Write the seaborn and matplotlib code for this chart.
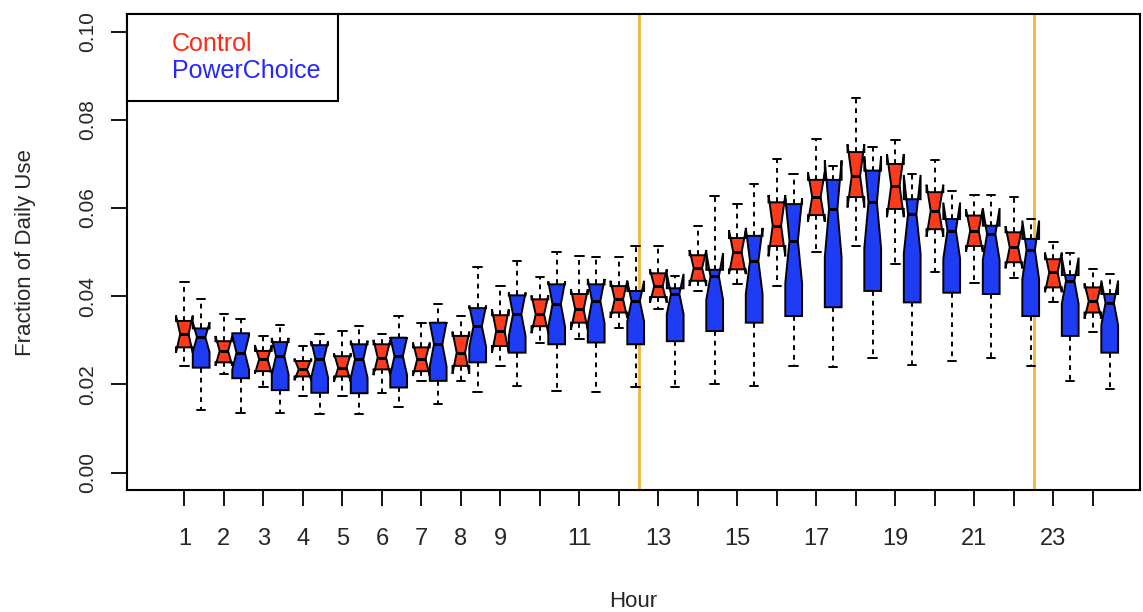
import numpy as np
import pandas as pd
import matplotlib
matplotlib.use("Agg")
import matplotlib.pyplot as plt
from matplotlib.lines import Line2D
import seaborn as sns

# --- data (five-number summaries per hour) ---
hours = list(range(1, 25))
groups = ["Control", "PowerChoice"]

ctrl_lo  = [0.0242, 0.0223, 0.0193, 0.0173, 0.0173, 0.0180, 0.0208, 0.0208, 0.0242, 0.0293, 0.0302, 0.0329,
            0.0370, 0.0412, 0.0427, 0.0423, 0.0500, 0.0514, 0.0473, 0.0454, 0.0431, 0.0442, 0.0386, 0.0318]
ctrl_q1  = [0.0284, 0.0250, 0.0230, 0.0218, 0.0218, 0.0234, 0.0230, 0.0242, 0.0287, 0.0332, 0.0340, 0.0363,
            0.0398, 0.0435, 0.0461, 0.0514, 0.0584, 0.0625, 0.0598, 0.0552, 0.0514, 0.0477, 0.0420, 0.0363]
ctrl_med = [0.0314, 0.0276, 0.0257, 0.0234, 0.0238, 0.0261, 0.0257, 0.0272, 0.0321, 0.0359, 0.0370, 0.0393,
            0.0423, 0.0464, 0.0500, 0.0560, 0.0625, 0.0673, 0.0651, 0.0594, 0.0549, 0.0511, 0.0454, 0.0389]
ctrl_q3  = [0.0344, 0.0298, 0.0276, 0.0253, 0.0264, 0.0291, 0.0284, 0.0310, 0.0357, 0.0393, 0.0405, 0.0423,
            0.0452, 0.0493, 0.0532, 0.0613, 0.0664, 0.0727, 0.0700, 0.0636, 0.0583, 0.0545, 0.0484, 0.0420]
ctrl_hi  = [0.0432, 0.0359, 0.0310, 0.0287, 0.0321, 0.0314, 0.0340, 0.0355, 0.0423, 0.0443, 0.0492, 0.0488,
            0.0513, 0.0560, 0.0609, 0.0711, 0.0757, 0.0850, 0.0755, 0.0708, 0.0630, 0.0624, 0.0522, 0.0461]

pc_lo  = [0.0143, 0.0136, 0.0136, 0.0132, 0.0132, 0.0148, 0.0155, 0.0182, 0.0196, 0.0185, 0.0182, 0.0193,
          0.0193, 0.0200, 0.0196, 0.0242, 0.0239, 0.0261, 0.0245, 0.0253, 0.0261, 0.0242, 0.0208, 0.0189]
pc_q1  = [0.0238, 0.0214, 0.0187, 0.0181, 0.0180, 0.0193, 0.0208, 0.0250, 0.0272, 0.0291, 0.0295, 0.0291,
          0.0298, 0.0321, 0.0340, 0.0355, 0.0375, 0.0412, 0.0386, 0.0408, 0.0405, 0.0355, 0.0310, 0.0272]
pc_med = [0.0307, 0.0272, 0.0264, 0.0257, 0.0257, 0.0264, 0.0291, 0.0332, 0.0359, 0.0382, 0.0389, 0.0389,
          0.0405, 0.0445, 0.0480, 0.0526, 0.0598, 0.0613, 0.0586, 0.0549, 0.0541, 0.0505, 0.0435, 0.0385]
pc_q3  = [0.0327, 0.0316, 0.0296, 0.0289, 0.0291, 0.0306, 0.0340, 0.0373, 0.0402, 0.0427, 0.0427, 0.0412,
          0.0418, 0.0460, 0.0537, 0.0609, 0.0664, 0.0685, 0.0620, 0.0575, 0.0560, 0.0530, 0.0448, 0.0405]
pc_hi  = [0.0393, 0.0348, 0.0334, 0.0314, 0.0332, 0.0355, 0.0382, 0.0466, 0.0480, 0.0500, 0.0488, 0.0513,
          0.0446, 0.0628, 0.0655, 0.0677, 0.0696, 0.0739, 0.0677, 0.0639, 0.0630, 0.0575, 0.0499, 0.0450]

tick_labels = ["1", "2", "3", "4", "5", "6", "7", "8", "9", "", "11", "",
               "13", "", "15", "", "17", "", "19", "", "21", "", "23", ""]
peak_edges = [12.5, 22.5]   # orange lines, in hour units

colors = ["#fb3b1c", "#1f3cf5"]
text_colors = ["#ff2a14", "#2626ff"]

# rebuild samples whose quartiles equal the summaries (k repeats -> n = 4k+1)
reps = {"Control": 1, "PowerChoice": 4}
summaries = {
    "Control": (ctrl_lo, ctrl_q1, ctrl_med, ctrl_q3, ctrl_hi),
    "PowerChoice": (pc_lo, pc_q1, pc_med, pc_q3, pc_hi),
}
rows = []
for g in groups:
    k = reps[g]
    lo, q1, med, q3, hi = summaries[g]
    for i, h in enumerate(hours):
        vals = [lo[i]] + [q1[i]] * k + [med[i]] * k + [q3[i]] * k + [hi[i]] * k
        rows += [(h, g, v) for v in vals]
df = pd.DataFrame(rows, columns=["Hour", "group", "share"])

# --- plot ---
sns.set_style("white")
plt.rcParams["font.family"] = ["Liberation Sans", "DejaVu Sans"]

fig, ax = plt.subplots(figsize=(11.43, 6.12), dpi=100)
fig.subplots_adjust(left=0.111, right=0.9974, bottom=0.199, top=0.977)

box_w = 0.85
sns.boxplot(data=df, x="Hour", y="share", hue="group", hue_order=groups,
            palette=colors, saturation=1, width=box_w, gap=0, dodge=True,
            notch=True, whis=(0, 100), showfliers=False, legend=False,
            linecolor="black", linewidth=1.4,
            whiskerprops=dict(linestyle=(0, (2.5, 2.5))),
            medianprops=dict(color="black", linewidth=2.2),
            ax=ax)

off = box_w / 4   # red box sits on the tick
for h in peak_edges:
    ax.axvline(h - 1 - off, color="#f3b43c", lw=2, zorder=0)

ax.set_xticks(np.arange(len(hours)) - off)
ax.set_xticklabels(tick_labels, fontsize=17)
ax.set_xlim(-1.668, 23.98)
ax.set_ylim(-0.004, 0.104)
ax.set_yticks([0.0, 0.02, 0.04, 0.06, 0.08, 0.10])
ax.set_yticklabels(["0.00", "0.02", "0.04", "0.06", "0.08", "0.10"], fontsize=15,
                   rotation=90, va="center")
ax.tick_params(axis="both", direction="out", length=11.5, width=1.3, color="black",
               bottom=True, left=True)
ax.tick_params(axis="x", pad=16)
ax.tick_params(axis="y", pad=10)
ax.set_xlabel("Hour", fontsize=16, labelpad=29)
ax.set_ylabel("Fraction of Daily Use", fontsize=16, labelpad=30)
for s in ax.spines.values():
    s.set_color("black")
    s.set_linewidth(1.5)

handles = [Line2D([], [], linestyle="none") for _ in groups]
ax.legend(handles, groups, labelcolor=text_colors, loc="upper left",
          bbox_to_anchor=(0, 1), borderaxespad=0, frameon=True, fancybox=False,
          edgecolor="black", framealpha=1, fontsize=18, handlelength=1.1,
          handletextpad=0.0, borderpad=0.7, labelspacing=0.15)
ax.get_legend().get_frame().set_linewidth(1.5)

fig.savefig("out.png", dpi=100)
